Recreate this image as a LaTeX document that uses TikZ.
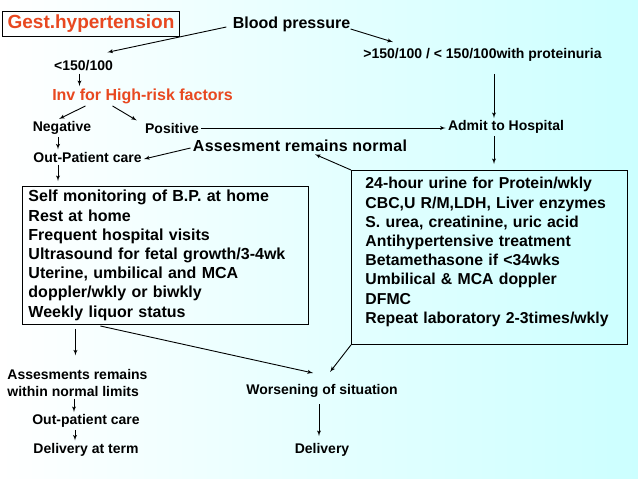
\documentclass[tikz,border=0pt]{standalone}
\usepackage{fontspec}
\setmainfont{Liberation Sans}
\usepackage{tikz}
\usetikzlibrary{arrows}
\usetikzlibrary{positioning}
\definecolor{gestred}{RGB}{232,72,32}
\definecolor{bgcyan}{RGB}{204,255,255}
\tikzstyle{smalltext} = [font=\bfseries\fontsize{14}{17}\selectfont, inner sep=2pt]
\tikzstyle{bigtext} = [font=\bfseries\fontsize{16}{19.2}\selectfont, inner sep=2pt]
\tikzstyle{widetext} = [bigtext, font=\bfseries\fontsize{16}{19.2}\selectfont\addfontfeatures{LetterSpace=1.5}]
\tikzstyle{redtext} = [bigtext, text=gestred]
\tikzstyle{block} = [draw, rectangle, bigtext, align=left, anchor=north west]

\begin{document}
\begin{tikzpicture}[>=latex', x=1pt, y=-1pt, line width=0.9pt]
    % background of the slide
    \useasboundingbox (0,0) rectangle (638,479);
    \shade[left color=white, right color=bgcyan] (0,0) rectangle (638,479);

    % We start by placing the top row
    \node [draw, redtext, font=\bfseries\fontsize{19}{22}\selectfont, inner xsep=5.5pt, inner ysep=4pt] (gest) at (91,24) {Gest.hypertension};
    \node [bigtext] (blood) at (291.5,24) {Blood pressure};
    \node [smalltext] (lt) at (83.5,66) {<150/100};
    \node [smalltext] (gt) at (482.5,55) {>150/100 / < 150/100with proteinuria};
    \node [redtext] (inv) at (142.5,96) {Inv for High-risk factors};
    \node [smalltext] (neg) at (62,128) {Negative};
    \node [smalltext] (pos) at (172,128) {Positive};
    \node [smalltext] (admit) at (506,127) {Admit to Hospital};
    \node [widetext] (assess) at (300,146) {Assesment remains normal};
    \node [smalltext] (opc) at (87.5,157) {Out-Patient care};

    % the two boxes
    \node [block, text width=274pt, inner xsep=6pt, minimum height=138pt] (lbox) at (22,186)
        {Self monitoring of B.P. at home\\
         Rest at home\\
         Frequent hospital visits\\
         Ultrasound for fetal growth/3-4wk\\
         Uterine, umbilical and MCA\\
         doppler/wkly or biwkly\\
         Weekly liquor status};
    \node [block, font=\bfseries\fontsize{15.8}{19.2}\selectfont, text width=248pt, inner xsep=14pt, minimum height=174pt] (rbox) at (351,170)
        {24-hour urine for Protein/wkly\\
         CBC,U R/M,LDH, Liver enzymes\\
         S. urea, creatinine, uric acid\\
         Antihypertensive treatment\\
         Betamethasone if <34wks\\
         Umbilical \& MCA doppler\\
         DFMC\\
         Repeat laboratory 2-3times/wkly\rule[-14pt]{0pt}{14pt}};

    % bottom row
    \node [smalltext, align=left, anchor=west] (normal) at (5,382.5) {Assesments remains\\within normal limits};
    \node [smalltext] (opc2) at (86,421) {Out-patient care};
    \node [smalltext, below=10.5pt of opc2] (term) {Delivery at term};
    \node [smalltext] (worse) at (322,391) {Worsening of situation};
    \node [smalltext, below=41pt of worse] (deliv) {Delivery};

    \draw [->] ([xshift=-4pt,yshift=-3pt]blood.west) -- ([xshift=-8pt,yshift=6pt]lt.north east);
    \draw [->] ([xshift=-2pt,yshift=-5pt]blood.east) -- ([xshift=32pt,yshift=4pt]gt.north west);
    \draw [->] ([xshift=-4pt]lt.south) -- ([xshift=-4pt]lt.south |- inv.north);
    \draw [->] ([xshift=-57pt]inv.south) -- ([xshift=-3pt]neg.north);
    \draw [->] ([xshift=-30pt]inv.south) -- ([xshift=-6pt]pos.north west);
    \draw [->] ([xshift=-4pt]neg.south) -- ([xshift=-4pt]neg.south |- opc.north);
    \draw [->, shorten >=5pt] ([xshift=-29.5pt]opc.south) -- ([xshift=-29.5pt]opc.south |- lbox.north);
    \draw [->] (pos.east) -- (pos.east -| admit.west);
    \draw [->, shorten <=10pt] ([xshift=11.5pt]gt.south) -- ([xshift=11.5pt]gt.south |- admit.north);
    \draw [->, shorten >=6pt] ([xshift=-12pt]admit.south) -- ([xshift=-12pt]admit.south |- rbox.north);
    \draw [->] (rbox.north west) -- ([xshift=15pt]assess.south);
    \draw [->] ([yshift=-2pt]assess.west) -- ([yshift=-2pt]opc.east);
    \draw [->, shorten <=4pt, shorten >=11pt] ([xshift=-90pt]lbox.south) -- ([xshift=-90pt]lbox.south |- normal.north);
    \draw [->, shorten <=5pt] ([xshift=-70pt]lbox.south) -- ([xshift=-9pt,yshift=9pt]worse.north);
    \draw [->] (rbox.south west) -- ([xshift=8pt,yshift=10pt]worse.north);
    \draw [->] ([xshift=-3.5pt]normal.south) -- ([xshift=-3.5pt]normal.south |- opc2.north);
    \draw [->] ([xshift=-11pt]opc2.south) -- ([xshift=-11pt]opc2.south |- term.north);
    \draw [->, shorten <=4pt, shorten >=5pt] ([xshift=-3pt]worse.south) -- ([xshift=-3pt]worse.south |- deliv.north);
\end{tikzpicture}
\end{document}
